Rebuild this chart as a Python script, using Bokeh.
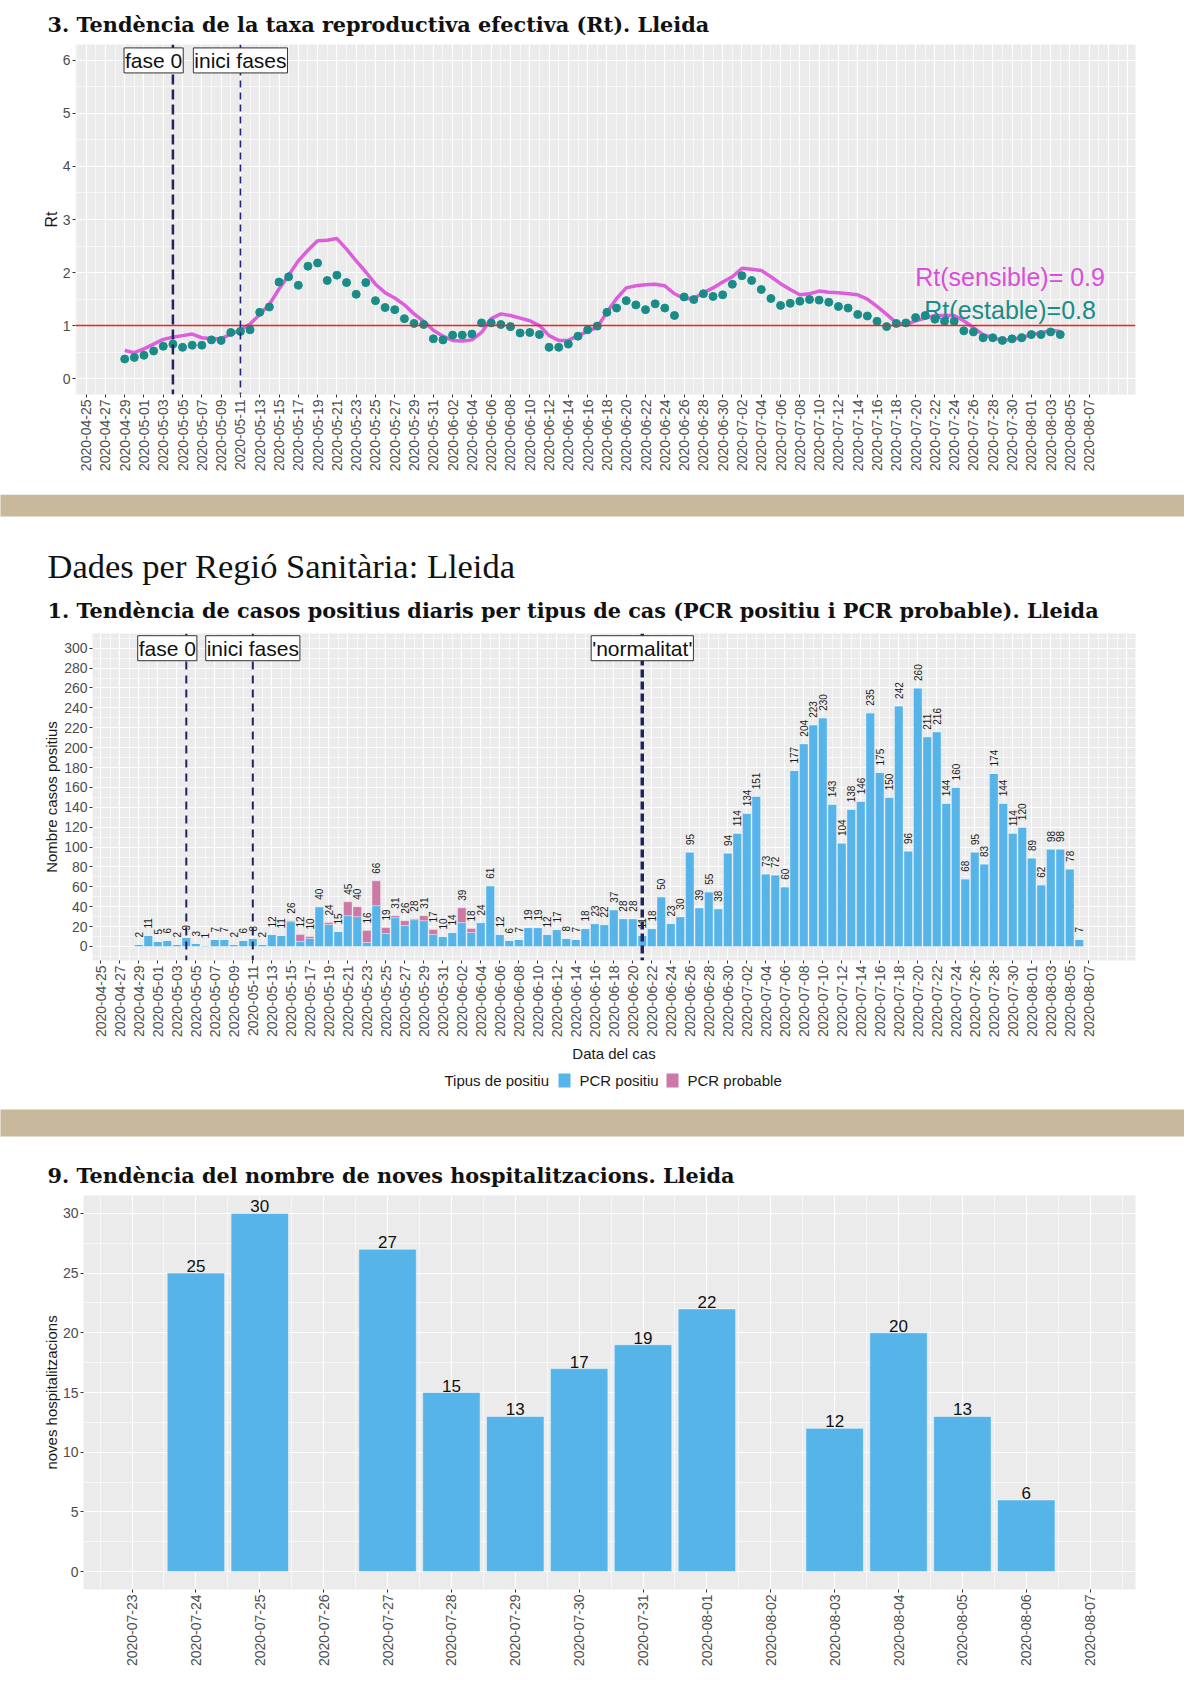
import numpy as np
import pandas as pd
from bokeh.plotting import figure
from bokeh.models import (Range1d, FixedTicker, DatetimeTickFormatter, Span, Label,
                          ColumnDataSource)
from bokeh.core.properties import value
from bokeh.embed import file_html
from bokeh.resources import INLINE

# ------------------------------------------------------------------ data
title_rt = "3. Tendència de la taxa reproductiva efectiva (Rt). Lleida"
header_rs = "Dades per Regió Sanitària: Lleida"
title_cases = "1. Tendència de casos positius diaris per tipus de cas (PCR positiu i PCR probable). Lleida"
title_hosp = "9. Tendència del nombre de noves hospitalitzacions. Lleida"

rt_start = "2020-04-29"
rt_estable = [0.37, 0.40, 0.44, 0.52, 0.61, 0.65, 0.59, 0.63, 0.63, 0.73,
              0.72, 0.87, 0.89, 0.92, 1.25, 1.35, 1.82, 1.92, 1.76, 2.12,
              2.18, 1.85, 1.95, 1.81, 1.59, 1.81, 1.47, 1.34, 1.30, 1.13,
              1.04, 1.02, 0.75, 0.73, 0.82, 0.82, 0.84, 1.05, 1.05, 1.02,
              0.98, 0.86, 0.87, 0.83, 0.59, 0.59, 0.65, 0.80, 0.92, 0.99,
              1.25, 1.33, 1.47, 1.39, 1.30, 1.41, 1.33, 1.19, 1.54, 1.49,
              1.60, 1.55, 1.58, 1.78, 1.94, 1.85, 1.68, 1.51, 1.38, 1.42,
              1.46, 1.49, 1.48, 1.44, 1.36, 1.33, 1.21, 1.18, 1.08, 0.98,
              1.04, 1.05, 1.15, 1.19, 1.12, 1.08, 1.08, 0.90, 0.88, 0.77,
              0.77, 0.72, 0.75, 0.77, 0.83, 0.83, 0.88, 0.83]
rt_sensible = [0.53, 0.49, 0.56, 0.65, 0.74, 0.78, 0.81, 0.84, 0.77, 0.75,
               0.75, 0.84, 0.92, 1.03, 1.21, 1.40, 1.69, 1.95, 2.22, 2.42,
               2.60, 2.61, 2.64, 2.44, 2.22, 2.01, 1.78, 1.62, 1.52, 1.39,
               1.22, 1.08, 0.91, 0.80, 0.72, 0.71, 0.73, 0.87, 1.13, 1.22,
               1.19, 1.14, 1.09, 1.00, 0.81, 0.72, 0.72, 0.81, 0.89, 0.97,
               1.25, 1.51, 1.71, 1.75, 1.77, 1.78, 1.75, 1.60, 1.51, 1.51,
               1.62, 1.71, 1.82, 1.92, 2.08, 2.06, 2.04, 1.92, 1.79, 1.68,
               1.58, 1.60, 1.65, 1.63, 1.62, 1.60, 1.58, 1.50, 1.36, 1.21,
               1.05, 1.02, 1.09, 1.14, 1.19, 1.19, 1.19, 1.09, 0.96, 0.83,
               0.77, 0.72, 0.74, 0.77, 0.83, 0.86, 0.91, 0.89]
rt_sensible_text = "Rt(sensible)= 0.9"
rt_estable_text = "Rt(estable)=0.8"

cases_start = "2020-04-29"
pcr_positiu = [2, 11, 5, 6, 2, 9, 3, 1, 7, 7,
               2, 6, 8, 2, 12, 11, 25, 5, 8, 40,
               22, 15, 31, 30, 4, 41, 13, 29, 21, 27,
               26, 12, 10, 14, 24, 14, 24, 61, 12, 6,
               7, 19, 19, 12, 17, 8, 7, 18, 23, 22,
               37, 28, 28, 11, 18, 50, 23, 30, 95, 39,
               55, 38, 94, 114, 134, 151, 73, 72, 60, 177,
               204, 223, 230, 143, 104, 138, 146, 235, 175, 150,
               242, 96, 260, 211, 216, 144, 160, 68, 95, 83,
               174, 144, 114, 120, 89, 62, 98, 98, 78, 7]
pcr_probable = [0, 0, 0, 0, 0, 0, 0, 0, 0, 0,
                0, 0, 0, 0, 0, 0, 1, 7, 2, 0,
                2, 0, 14, 10, 12, 25, 6, 2, 5, 1,
                5, 5, 0, 0, 15, 4, 0, 0, 0, 0,
                0, 0, 0, 0, 0, 0, 0, 0, 0, 0,
                0, 0, 0, 0, 0, 0, 0, 0, 0, 0,
                0, 0, 0, 0, 0, 0, 0, 0, 0, 0,
                0, 0, 0, 0, 0, 0, 0, 0, 0, 0,
                0, 0, 0, 0, 0, 0, 0, 0, 0, 0,
                0, 0, 0, 0, 0, 0, 0, 0, 0, 0]
legend_title = "Tipus de positiu"
legend_labels = ["PCR positiu", "PCR probable"]

hosp_dates = ["2020-07-24", "2020-07-25", "2020-07-26", "2020-07-27", "2020-07-28",
              "2020-07-29", "2020-07-30", "2020-07-31", "2020-08-01", "2020-08-02",
              "2020-08-03", "2020-08-04", "2020-08-05", "2020-08-06"]
hosp_values = [25, 30, 0, 27, 15, 13, 17, 19, 22, 0, 12, 20, 13, 6]

event_fase0 = "2020-05-04"
event_inici = "2020-05-11"
event_normal = "2020-06-21"

# ------------------------------------------------------------------ helpers
DAY = 86400000.0
BLUE = "#56B4E9"
PINK = "#CC79A7"
SANS = "Liberation Sans"


def ms(d):
    return pd.Timestamp(d).value / 1e6


def date_fmt():
    f = "%Y-%m-%d"
    return DatetimeTickFormatter(microseconds=f, milliseconds=f, seconds=f, minsec=f,
                                 minutes=f, hourmin=f, hours=f, days=f, months=f, years=f)


def chart(height, left, right, top, bottom, x0, x1, y0, y1):
    p = figure(width=1184, height=height, x_axis_type="datetime",
               x_range=Range1d(x0, x1), y_range=Range1d(y0, y1),
               min_border_left=left, min_border_right=right,
               min_border_top=top, min_border_bottom=bottom,
               toolbar_location=None, output_backend="svg", title=None)
    p.background_fill_color = "#EBEBEB"
    p.border_fill_color = "white"
    p.outline_line_color = None
    for g in (p.xgrid, p.ygrid):
        g.grid_line_color = "white"
        g.grid_line_width = 1.2
        g.minor_grid_line_color = "white"
        g.minor_grid_line_width = 0.6
    for ax in p.axis:
        ax.axis_line_color = None
        ax.major_tick_line_color = "#333333"
        ax.major_tick_in = 0
        ax.major_tick_out = 3
        ax.minor_tick_line_color = None
        ax.major_label_standoff = 2
        ax.major_label_text_font = SANS
        ax.major_label_text_font_size = "14px"
        ax.major_label_text_color = "#4D4D4D"
        ax.axis_label_text_font = SANS
        ax.axis_label_text_font_size = "15px"
        ax.axis_label_text_font_style = "normal"
        ax.axis_label_text_color = "#1A1A1A"
    p.xaxis.formatter = date_fmt()
    p.xaxis.major_label_orientation = np.pi / 2
    return p


def header(height):
    h = figure(width=1184, height=height, x_range=Range1d(0, 1184), y_range=Range1d(0, height),
               min_border_left=0, min_border_right=0, min_border_top=0, min_border_bottom=0,
               toolbar_location=None, output_backend="svg", title=None,
               x_axis_location=None, y_axis_location=None)
    h.grid.visible = False
    h.outline_line_color = None
    h.background_fill_color = "white"
    h.border_fill_color = "white"
    return h


def title_text(h, x, y, txt):
    h.text(x=[x], y=[y], text=[txt], text_font=value("DejaVu Serif"), text_font_size="20.8px",
           text_font_style="bold", text_color="#111111",
           text_align="left", text_baseline="alphabetic")


def box_label(p, x, y, txt):
    p.add_layout(Label(x=x, y=y, text=txt, text_align="center", text_baseline="middle",
                       text_font=SANS, text_font_size="21px", text_color="#111111",
                       background_fill_color="white", border_line_color="#333333",
                       border_line_width=1, padding=1))


# ------------------------------------------------------------------ header 1
h1 = header(38)
title_text(h1, 47, 14, title_rt)

# ------------------------------------------------------------------ Rt chart
rt_dates = pd.date_range(rt_start, periods=len(rt_estable), freq="D")
ax_ticks = [ms(d) for d in pd.date_range("2020-04-25", "2020-08-07", freq="2D")]
grid_major = [ms(d) for d in pd.date_range("2020-04-25", "2020-08-11", freq="2D")]
grid_minor = [ms(d) for d in pd.date_range("2020-04-24", "2020-08-12", freq="2D")]
x_origin = ms("2020-04-25")

f1 = chart(456, 75, 49, 6, 100, x_origin - 1.10 * DAY, x_origin + 108.8 * DAY, -0.3, 6.3)
f1.xaxis.ticker = FixedTicker(ticks=ax_ticks)
f1.yaxis.ticker = FixedTicker(ticks=[0, 1, 2, 3, 4, 5, 6])
f1.xgrid.ticker = FixedTicker(ticks=grid_major, minor_ticks=grid_minor)
f1.ygrid.ticker = FixedTicker(ticks=[0, 1, 2, 3, 4, 5, 6],
                              minor_ticks=[0.5, 1.5, 2.5, 3.5, 4.5, 5.5])
f1.yaxis.axis_label = "Rt"
f1.yaxis.axis_label_text_font_size = "16px"
f1.yaxis.axis_label_standoff = 0

f1.line(rt_dates, rt_sensible, line_color="#D94FD9", line_width=3.5, line_alpha=0.9)
f1.scatter(rt_dates, rt_estable, size=8, fill_color="#1A8C88", line_color="#1A8C88")
f1.add_layout(Span(location=1, dimension="width", line_color="#EE2222", line_width=1.5))
f1.add_layout(Span(location=ms(event_fase0), dimension="height", line_color="#22225E",
                   line_width=2.5, line_dash="10 5"))
f1.add_layout(Span(location=ms(event_inici), dimension="height", line_color="#22227A",
                   line_width=1.6, line_dash="7 5"))
box_label(f1, ms("2020-05-02"), 6.0, "fase 0")
box_label(f1, ms(event_inici), 6.0, "inici fases")
lab_x = ms("2020-07-29") + 0.8 * DAY
f1.text(x=[lab_x], y=[1.91], text=[rt_sensible_text], text_font=value(SANS),
        text_font_size="25px", text_color="#D94FD9", text_align="center",
        text_baseline="middle")
f1.text(x=[lab_x], y=[1.30], text=[rt_estable_text], text_font=value(SANS),
        text_font_size="25px", text_color="#1A8C88", text_align="center",
        text_baseline="middle")

# ------------------------------------------------------------------ header 2
h2 = header(139)
h2.quad(left=[-10], right=[1200], bottom=[117], top=[139], fill_color="#C8B99B", line_color=None)
h2.text(x=[47], y=[68], text=[header_rs], text_font=value("Liberation Serif"),
        text_font_size="34.5px", text_color="#111111", text_align="left",
        text_baseline="alphabetic")
title_text(h2, 47, 23, title_cases)

# ------------------------------------------------------------------ cases chart
case_dates = pd.date_range(cases_start, periods=len(pcr_positiu), freq="D")
totals = [a + b for a, b in zip(pcr_positiu, pcr_probable)]
src = ColumnDataSource(dict(date=case_dates, positiu=pcr_positiu, probable=pcr_probable,
                            total=totals, label=[str(t) for t in totals]))

f2 = chart(434, 92, 49, 0, 107, x_origin - 0.874 * DAY, x_origin + 108.92 * DAY, -14.1, 314.8)
f2.xaxis.ticker = FixedTicker(ticks=ax_ticks)
y2_major = list(range(0, 301, 20))
f2.yaxis.ticker = FixedTicker(ticks=y2_major)
f2.xgrid.ticker = FixedTicker(ticks=grid_major, minor_ticks=grid_minor)
f2.ygrid.ticker = FixedTicker(ticks=y2_major, minor_ticks=list(range(-10, 320, 20)))
f2.yaxis.axis_label = "Nombre casos positius"
f2.yaxis.axis_label_standoff = 1
f2.xaxis.axis_label = "Data del cas"
f2.xaxis.axis_label_standoff = 5

f2.vbar_stack(["positiu", "probable"], x="date", width=0.9 * DAY, color=[BLUE, PINK],
              line_color="white", line_width=0.5, line_alpha=0.7, source=src)
f2.text(x="date", y="total", text="label", source=src, angle=np.pi / 2,
        text_align="left", text_baseline="middle", y_offset=-7,
        text_font=value(SANS), text_font_size="10px", text_color="#1A1A1A")
f2.add_layout(Span(location=ms(event_fase0), dimension="height", line_color="#22225E",
                   line_width=2, line_dash="8 6"))
f2.add_layout(Span(location=ms(event_inici), dimension="height", line_color="#22225E",
                   line_width=2, line_dash="8 6"))
f2.add_layout(Span(location=ms(event_normal), dimension="height", line_color="#22225E",
                   line_width=3.5, line_dash="8 4"))
box_label(f2, ms("2020-05-02"), 300, "fase 0")
box_label(f2, ms(event_inici), 300, "inici fases")
box_label(f2, ms(event_normal), 300, "'normalitat'")

# ------------------------------------------------------------------ header 3 (legend, band, title)
h3 = header(128)
h3.text(x=[444], y=[115], text=[legend_title], text_font=value(SANS), text_font_size="15px",
        text_color="#1A1A1A", text_align="left", text_baseline="middle")
h3.quad(left=[558, 666], right=[570, 678], bottom=[108, 108], top=[122, 122],
        fill_color=[BLUE, PINK], line_color=None)
h3.text(x=[579, 687], y=[115, 115], text=legend_labels, text_font=value(SANS),
        text_font_size="15px", text_color="#1A1A1A", text_align="left",
        text_baseline="middle")
h3.quad(left=[-10], right=[1200], bottom=[59], top=[86], fill_color="#C8B99B", line_color=None)
title_text(h3, 47, 20, title_hosp)

# ------------------------------------------------------------------ hospital chart
h_dates = pd.to_datetime(hosp_dates)
h_origin = ms("2020-07-23")
f3 = chart(477, 83, 49, 0, 83, h_origin - 0.76 * DAY, h_origin + 15.71 * DAY, -1.5, 31.5)
h_ticks = [ms(d) for d in pd.date_range("2020-07-23", "2020-08-07", freq="D")]
h_minor = [h_origin + (k - 0.5) * DAY for k in range(0, 17)]
f3.xaxis.ticker = FixedTicker(ticks=h_ticks)
f3.yaxis.ticker = FixedTicker(ticks=[0, 5, 10, 15, 20, 25, 30])
f3.xgrid.ticker = FixedTicker(ticks=h_ticks, minor_ticks=h_minor)
f3.ygrid.ticker = FixedTicker(ticks=[0, 5, 10, 15, 20, 25, 30],
                              minor_ticks=[2.5, 7.5, 12.5, 17.5, 22.5, 27.5])
f3.yaxis.axis_label = "noves hospitalitzacions"
f3.yaxis.axis_label_standoff = 0

f3.vbar(x=h_dates, top=hosp_values, width=0.9 * DAY, fill_color=BLUE,
        line_color="white", line_alpha=0.5, line_width=1)
lab_d = [d for d, v in zip(h_dates, hosp_values) if v > 0]
lab_v = [v for v in hosp_values if v > 0]
f3.text(x=lab_d, y=lab_v, text=[str(v) for v in lab_v], text_font=value(SANS),
        text_font_size="17px", text_color="#111111", text_align="center",
        text_baseline="bottom", y_offset=-1)

roots = [h1, f1, h2, f2, h3, f3]
open("out.html", "w").write(file_html(roots, INLINE))
